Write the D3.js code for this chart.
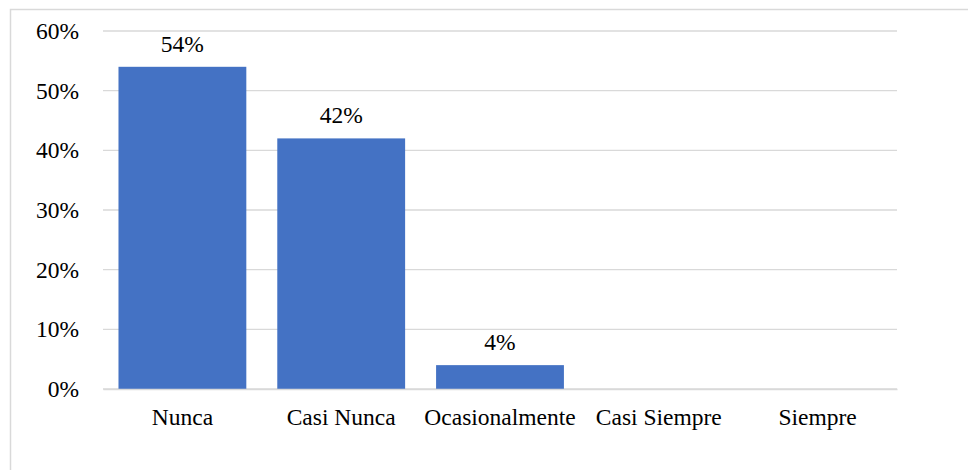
<!DOCTYPE html>
<html><head><meta charset="utf-8">
<script src="https://cdn.jsdelivr.net/npm/d3@7"></script>
<style>body{margin:0;background:#fff}svg{display:block}
svg text{font-family:"Times New Roman","Liberation Serif","DejaVu Serif",serif !important;font-size:23.5px !important;fill:#000}</style>
</head><body>
<svg id="c" width="968" height="470"></svg>
<script>
const categories = ["Nunca", "Casi Nunca", "Ocasionalmente", "Casi Siempre", "Siempre"];
const values = [54, 42, 4, 0, 0];
const yTicks = [0, 10, 20, 30, 40, 50, 60];

const svg = d3.select("#c");
svg.append("rect").attr("x", 10.5).attr("y", 9.5).attr("width", 970).attr("height", 470)
  .attr("fill", "#fff").attr("stroke", "#d9d9d9").attr("stroke-width", 1.5);

const x = d3.scaleBand().domain(categories).range([103, 897]).paddingInner(0.195).paddingOuter(0.0975);
const y = d3.scaleLinear().domain([0, 60]).range([389, 31]);

const grid = svg.append("g");
grid.selectAll("line").data(yTicks).join("line")
  .attr("x1", 103).attr("x2", 897).attr("y1", d => y(d)).attr("y2", d => y(d))
  .attr("stroke", "#d9d9d9").attr("stroke-width", 1.3);

const yAxis = svg.append("g").attr("transform", "translate(103,0)")
  .call(d3.axisLeft(y).tickValues(yTicks).tickFormat(d => d + "%").tickSize(0).tickPadding(24));
yAxis.select(".domain").remove();

svg.append("g").selectAll("rect").data(values).join("rect")
  .attr("x", (d, i) => x(categories[i])).attr("width", x.bandwidth())
  .attr("y", d => y(d)).attr("height", d => y(0) - y(d)).attr("fill", "#4472C4");

svg.append("g").selectAll("text").data(values.filter(v => v > 0)).join("text")
  .attr("x", (d, i) => x(categories[i]) + x.bandwidth() / 2).attr("y", d => y(d) - 15)
  .attr("text-anchor", "middle")
  .text(d => d + "%");

const xAxis = svg.append("g").attr("transform", "translate(0,389)")
  .call(d3.axisBottom(x).tickSize(0).tickPadding(19));
xAxis.select(".domain").attr("stroke", "#d9d9d9").attr("stroke-width", 1.3);
</script>
</body></html>
